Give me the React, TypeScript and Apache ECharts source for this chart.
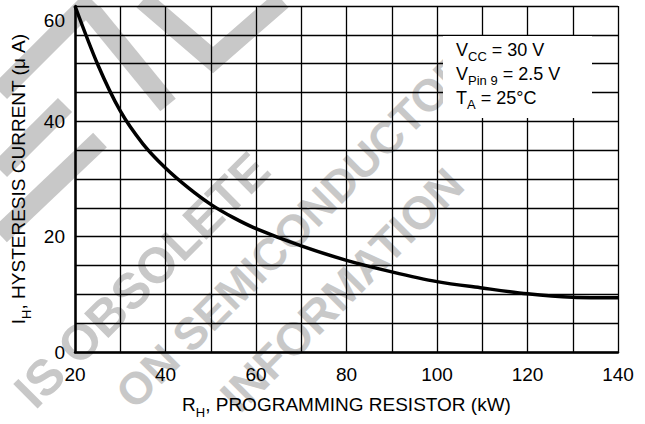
import React, { useEffect, useRef } from "react";
import * as echarts from "echarts";

// Data
const resistanceK = [20, 25, 30, 35, 40, 45, 50, 55, 60, 70, 80, 90, 100, 110, 120, 130, 140];
const hysteresisUA = [60, 49.9, 41.8, 36.1, 31.9, 28.5, 25.6, 23.3, 21.4, 18.4, 15.9, 13.9, 12.2, 11.1, 10.1, 9.5, 9.4];
const xTickLabels = [20, 40, 60, 80, 100, 120, 140];
const yTickLabels = [0, 20, 40, 60];
const conditions = [
  { main: "V", sub: "CC", rest: " = 30 V" },
  { main: "V", sub: "Pin 9", rest: " = 2.5 V" },
  { main: "T", sub: "A", rest: " = 25°C" },
];
const watermarkLines = ["IS OBSOLETE", "ON SEMICONDUCTOR", "INFORMATION"];

const FONT = '"Liberation Sans", Arial, Helvetica, sans-serif';
const WM = "#c8c8c8";

export default function App() {
  const ref = useRef<HTMLDivElement>(null);
  useEffect(() => {
    if (!ref.current) return;
    const chart = echarts.init(ref.current, undefined, { renderer: "svg" });
    const data = resistanceK.map((x, i) => [x, hysteresisUA[i]]);

    const wmPos = [
      { x: 142, y: 280, size: 50 },
      { x: 294, y: 230, size: 45 },
      { x: 342, y: 290, size: 46 },
    ];
    const strokes = [
      [[0, 92], [92, 0]],
      [[0, 170], [65, 105]],
      [[0, 235], [100, 140]],
      [[92, 12], [168, 105]],
      [[143, 0], [213, 60], [282, 0]],
    ];

    const graphic: any[] = [];
    strokes.forEach((pts) => {
      graphic.push({
        type: "polyline",
        z: -10,
        silent: true,
        shape: { points: pts },
        style: { stroke: WM, lineWidth: 20, fill: null },
      });
    });
    watermarkLines.forEach((t, i) => {
      graphic.push({
        type: "text",
        z: -10,
        silent: true,
        x: wmPos[i].x,
        y: wmPos[i].y,
        rotation: Math.PI / 4,
        style: {
          text: t,
          x: 0,
          y: 0,
          align: "center",
          verticalAlign: "middle",
          fill: WM,
          font: `bold ${wmPos[i].size}px "Liberation Sans", Arial, sans-serif`,
        },
      });
    });
    // white box behind conditions
    graphic.push({
      type: "rect",
      z: 5,
      silent: true,
      shape: { x: 443, y: 36, width: 149, height: 82 },
      style: { fill: "#fff" },
    });
    conditions.forEach((c, i) => {
      graphic.push({
        type: "text",
        z: 6,
        silent: true,
        x: 456,
        y: 41 + i * 24,
        style: {
          text: `{m|${c.main}}{s|${c.sub}}{m|${c.rest}}`,
          rich: {
            m: { fontSize: 18, fontFamily: FONT, fill: "#000", padding: [0, 0, 4, 0], verticalAlign: "bottom" },
            s: { fontSize: 13, fontFamily: FONT, fill: "#000", verticalAlign: "bottom" },
          },
          verticalAlign: "top",
          align: "left",
        },
      });
    });

    chart.setOption({
      animation: false,
      backgroundColor: "#fff",
      grid: { left: 75, right: 27, top: 6, bottom: 68, containLabel: false },
      graphic,
      xAxis: {
        type: "value",
        min: 20,
        max: 140,
        interval: 10,
        name: "{m|R}{s|H}{m|, PROGRAMMING RESISTOR (kW)}",
        nameLocation: "middle",
        nameGap: 43,
        nameTextStyle: {
          rich: {
            m: { fontSize: 19, fontFamily: FONT, color: "#000", padding: [0, 0, 5, 0], verticalAlign: "bottom" },
            s: { fontSize: 13, fontFamily: FONT, color: "#000", verticalAlign: "bottom" },
          },
        },
        axisLine: { show: true, onZero: false, lineStyle: { color: "#000", width: 2.5 } },
        axisTick: { show: false },
        splitLine: { show: true, lineStyle: { color: "#000", width: 1.3 } },
        axisLabel: {
          margin: 13,
          fontSize: 19,
          fontFamily: FONT,
          color: "#000",
          formatter: (v: number) => (xTickLabels.includes(v) ? String(v) : ""),
        },
      },
      yAxis: {
        type: "value",
        min: 0,
        max: 60,
        interval: 5,
        name: "{m|I}{s|H}{m|, HYSTERESIS CURRENT (μ A)}",
        nameLocation: "middle",
        nameGap: 41,
        nameRotate: 90,
        nameTextStyle: {
          rich: {
            m: { fontSize: 19, fontFamily: FONT, color: "#000", padding: [0, 0, 5, 0], verticalAlign: "bottom" },
            s: { fontSize: 13, fontFamily: FONT, color: "#000", verticalAlign: "bottom" },
          },
        },
        axisLine: { show: true, onZero: false, lineStyle: { color: "#000", width: 2.5 } },
        axisTick: { show: false },
        splitLine: { show: true, lineStyle: { color: "#000", width: 1.3 } },
        axisLabel: {
          margin: 10,
          fontSize: 19,
          fontFamily: FONT,
          color: "#000",
          formatter: (v: number) => {
            if (!yTickLabels.includes(v)) return "";
            if (v === 60) return "{t|60}";
            return String(v);
          },
          rich: {
            t: { fontSize: 19, fontFamily: FONT, color: "#000", padding: [28, 0, 0, 0] },
          },
        },
      },
      series: [
        {
          type: "line",
          data,
          smooth: 0.3,
          showSymbol: false,
          symbol: "none",
          z: 4,
          lineStyle: { color: "#000", width: 3.5 },
        },
      ],
    });
    return () => chart.dispose();
  }, []);
  return (
    <div
      ref={ref}
      style={{ position: "fixed", left: 0, top: 0, width: 645, height: 424, background: "#fff" }}
    />
  );
}
